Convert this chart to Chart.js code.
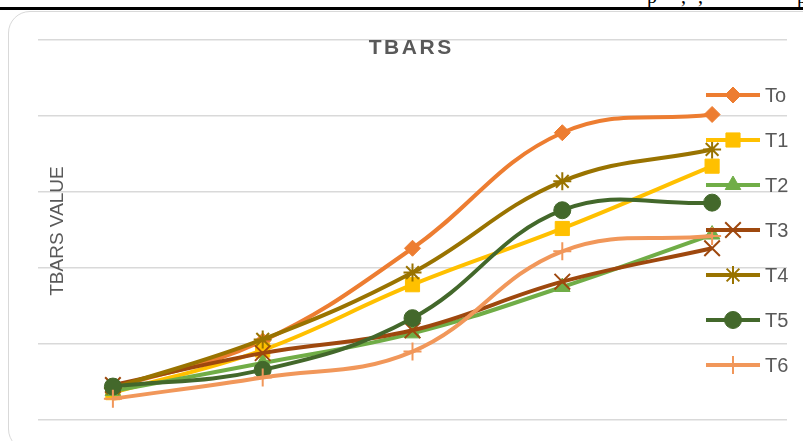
<!DOCTYPE html>
<html>
<head>
<meta charset="utf-8">
<script src="https://cdn.jsdelivr.net/npm/chart.js@4.4.1/dist/chart.umd.min.js"></script>
<style>
  html, body { margin: 0; padding: 0; background: #ffffff; }
  body { width: 803px; height: 441px; position: relative; overflow: hidden; }
  #page-text { position: absolute; top: -14px; left: 0; width: 803px; height: 20px;
    font: 20px "Liberation Serif", serif; line-height: 20px; color: #000; }
  #page-text span { position: absolute; top: 0; }
  #rule { position: absolute; left: 0; top: 7px; width: 803px; height: 3px; background: #000; }
  #frame { position: absolute; left: 8px; top: 11px; width: 820px; height: 440px;
    border: 1.5px solid #d9d9d9; border-radius: 22px; box-sizing: border-box; }
  #wrap { position: absolute; left: 0; top: 0; width: 803px; height: 441px; }
</style>
</head>
<body>
<div id="page-text"><span style="left:647px">p</span><span style="left:681px">,</span><span style="left:698px">,</span><span style="left:797px">p</span></div>
<div id="rule"></div>
<div id="frame"></div>
<div id="wrap"><canvas id="chart" width="803" height="441"></canvas></div>
<script>
// Sampling points along the x axis
const categories = ['0', '1', '2', '3', '4'];

// TBARS value per treatment
const seriesNames = ['To', 'T1', 'T2', 'T3', 'T4', 'T5', 'T6'];
const To = [0.21, 0.52, 1.13, 1.89, 2.01];
const T1 = [0.18, 0.46, 0.89, 1.26, 1.67];
const T2 = [0.19, 0.375, 0.57, 0.875, 1.22];
const T3 = [0.23, 0.44, 0.59, 0.91, 1.13];
const T4 = [0.21, 0.53, 0.97, 1.57, 1.78];
const T5 = [0.22, 0.33, 0.67, 1.38, 1.43];
const T6 = [0.14, 0.28, 0.45, 1.11, 1.21];

// Value axis range (tick labels are not shown)
const yMin = 0, yMax = 2.5, yStep = 0.5;

const seriesValues = [To, T1, T2, T3, T4, T5, T6];
const colors = ['#ED7D31', '#FFC000', '#70AD47', '#9E480E', '#997300', '#43682B', '#F1975A'];
const markers = [
  { style: 'rectRot', radius: 8, border: 1 },
  { style: 'rect', radius: 10, border: 1 },
  { style: 'triangle', radius: 9, border: 1 },
  { style: 'crossRot', radius: 11, border: 2 },
  { style: 'star', radius: 9, border: 2 },
  { style: 'circle', radius: 8.5, border: 1 },
  { style: 'cross', radius: 9, border: 2 }
];

const TEXT_COLOR = '#595959';

const datasets = seriesNames.map((name, i) => ({
  label: name,
  data: seriesValues[i],
  borderColor: colors[i],
  backgroundColor: colors[i],
  pointBackgroundColor: colors[i],
  pointBorderColor: colors[i],
  borderWidth: 4,
  tension: 0.4,
  pointStyle: markers[i].style,
  pointRadius: markers[i].radius,
  pointHoverRadius: markers[i].radius,
  pointBorderWidth: markers[i].border,
  order: seriesNames.length - i
}));

// Title, vertical axis title and legend drawn over the plot area
const overlayText = {
  id: 'overlayText',
  afterDraw(chart) {
    const ctx = chart.ctx;
    ctx.save();

    // Chart title with spaced capitals
    ctx.fillStyle = TEXT_COLOR;
    ctx.font = 'bold 21px "Liberation Sans", Arial, sans-serif';
    ctx.textBaseline = 'middle';
    const title = 'TBARS';
    const spacing = 2.6;
    let total = 0;
    for (const ch of title) total += ctx.measureText(ch).width + spacing;
    total -= spacing;
    let tx = 410 - total / 2;
    ctx.textAlign = 'left';
    for (const ch of title) {
      ctx.fillText(ch, tx, 48);
      tx += ctx.measureText(ch).width + spacing;
    }

    // Vertical axis title
    ctx.save();
    ctx.translate(58, 231);
    ctx.rotate(-Math.PI / 2);
    ctx.font = '19px "Liberation Sans", Arial, sans-serif';
    ctx.textAlign = 'center';
    ctx.textBaseline = 'middle';
    ctx.fillText('TBARS VALUE', 0, 0);
    ctx.restore();

    // Legend entries: line, marker, name
    chart.data.datasets.forEach((ds, i) => {
      const y = 95 + 45 * i;
      ctx.strokeStyle = ds.borderColor;
      ctx.lineWidth = ds.borderWidth;
      ctx.beginPath();
      ctx.moveTo(706, y);
      ctx.lineTo(760, y);
      ctx.stroke();

      ctx.fillStyle = ds.pointBackgroundColor;
      ctx.strokeStyle = ds.pointBorderColor;
      ctx.lineWidth = ds.pointBorderWidth;
      Chart.helpers.drawPoint(ctx, {
        pointStyle: ds.pointStyle,
        radius: ds.pointRadius,
        borderWidth: ds.pointBorderWidth,
        rotation: 0
      }, 733, y);

      ctx.fillStyle = TEXT_COLOR;
      ctx.font = '20px "Liberation Sans", Arial, sans-serif';
      ctx.textAlign = 'left';
      ctx.textBaseline = 'middle';
      ctx.fillText(ds.label, 765, y + 1);
    });

    ctx.restore();
  }
};

new Chart(document.getElementById('chart'), {
  type: 'line',
  data: { labels: categories, datasets },
  options: {
    responsive: false,
    animation: false,
    clip: false,
    layout: { padding: { left: 38, right: 16, top: 40, bottom: 21 } },
    plugins: {
      legend: { display: false },
      title: { display: false },
      tooltip: { enabled: false }
    },
    scales: {
      x: {
        type: 'category',
        offset: true,
        grid: { display: false, drawTicks: false },
        border: { display: false },
        ticks: { display: false }
      },
      y: {
        min: yMin,
        max: yMax,
        grid: { color: '#d9d9d9', lineWidth: 1.5, drawTicks: false },
        border: { display: false },
        ticks: { display: false, stepSize: yStep }
      }
    }
  },
  plugins: [overlayText]
});
</script>
</body>
</html>
